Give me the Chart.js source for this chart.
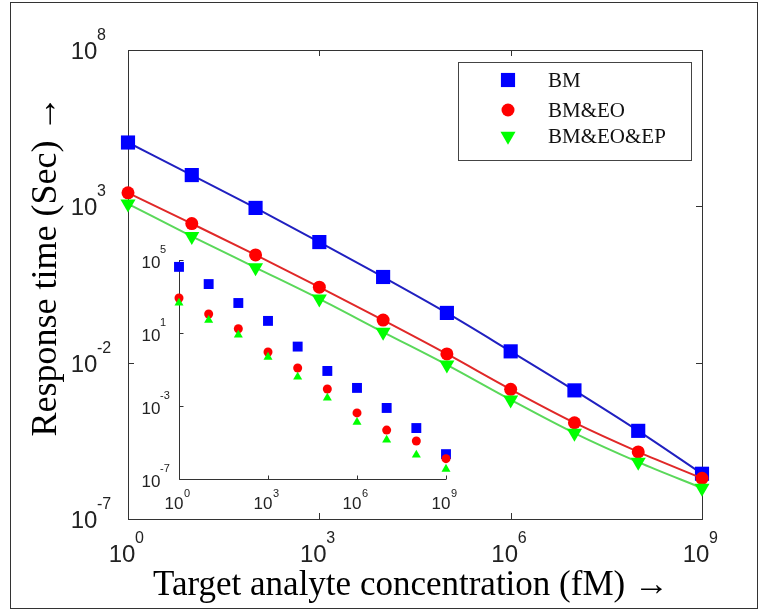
<!DOCTYPE html>
<html>
<head>
<meta charset="utf-8">
<script src="https://cdn.jsdelivr.net/npm/chart.js@4/dist/chart.umd.min.js"></script>
<style>
html,body{margin:0;padding:0;background:#fff;}
#wrap{position:relative;width:765px;height:613px;overflow:hidden;}
#main{position:absolute;left:0;top:0;}
#inset{position:absolute;left:130px;top:240px;}
</style>
</head>
<body>
<div id="wrap">
<canvas id="main" width="765" height="613"></canvas>
<canvas id="inset" width="340" height="270"></canvas>
</div>
<script>
// ---------- data ----------
const concentrations = [1e0, 1e1, 1e2, 1e3, 1e4, 1e5, 1e6, 1e7, 1e8, 1e9];
const seriesNames = ['BM', 'BM&EO', 'BM&EO&EP'];

// main plot (response time in seconds)
const bmTime     = [1.1e5, 1.0e4, 8.9e2, 7.2e1, 5.5e0, 3.9e-1, 2.3e-2, 1.3e-3, 6.6e-5, 2.8e-6];
const bmEoTime   = [2.7e3, 2.8e2, 2.8e1, 2.6e0, 2.3e-1, 1.9e-2, 1.4e-3, 1.2e-4, 1.4e-5, 2.0e-6];
const bmEoEpTime = [1.2e3, 1.1e2, 1.1e1, 1.1e0, 9.5e-2, 8.5e-3, 6.5e-4, 5.6e-5, 6.6e-6, 9.8e-7];

// inset plot
const insetBm     = [4.2e4, 4.8e3, 4.4e2, 4.6e1, 1.8e0, 8.3e-2, 9.8e-3, 7.8e-4, 6.2e-5, 2.3e-6];
const insetBmEo   = [8.3e2, 1.1e2, 1.7e1, 9.1e-1, 1.2e-1, 8.5e-3, 4.2e-4, 4.8e-5, 1.2e-5, 1.3e-6];
const insetBmEoEp = [4.4e2, 5.1e1, 7.8e0, 4.8e-1, 3.9e-2, 2.8e-3, 1.3e-4, 1.4e-5, 2.1e-6, 3.5e-7];

// tick values
const mainXTicks  = [1e0, 1e3, 1e6, 1e9];
const mainYTicks  = [1e-7, 1e-2, 1e3, 1e8];
const insetXTicks = [1e0, 1e3, 1e6, 1e9];
const insetYTicks = [1e-7, 1e-3, 1e1, 1e5];

const xTitle = 'Target analyte concentration (fM) \u2192';
const yTitle = 'Response time (Sec) \u2192';

// ---------- styles ----------
const markerColors = ['#0000ff', '#ff0000', '#00ff00'];
const lineColors   = ['#2020c0', '#e02828', '#5ad85a'];
const pointStyles  = ['rect', 'circle', 'triangle'];
const mainRadii    = [10, 6.5, 8.7];
const insetRadii   = [7, 4.5, 5.2];
const mainRot      = [0, 0, 180];
const insetRot     = [0, 0, 0];
const SANS = '"Liberation Sans", Arial, sans-serif';
const SERIF = '"Liberation Serif", "Times New Roman", serif';

function toPoints(vals) { return concentrations.map((x, i) => ({x: x, y: vals[i]})); }
function expOf(v) { return String(Math.round(Math.log10(v))); }

// draws "10" whose ink right edge is at inkRight, and the exponent just after it
function drawPow(ctx, v, inkRight, base10, baseExp, f10, fExp, gap) {
  ctx.textBaseline = 'alphabetic';
  ctx.textAlign = 'right';
  ctx.font = f10;
  const m = ctx.measureText('10');
  const ax = inkRight - m.actualBoundingBoxRight;
  ctx.fillText('10', ax, base10);
  ctx.textAlign = 'left';
  ctx.font = fExp;
  const e = expOf(v);
  const me = ctx.measureText(e);
  ctx.fillText(e, inkRight + gap + me.actualBoundingBoxLeft, baseExp);
}

function drawMarker(ctx, style, x, y, r, color, rot) {
  ctx.save();
  ctx.fillStyle = color;
  ctx.beginPath();
  if (style === 'rect') {
    const s = Math.SQRT1_2 * r;
    ctx.rect(x - s, y - s, 2 * s, 2 * s);
  } else if (style === 'circle') {
    ctx.arc(x, y, r, 0, Math.PI * 2);
  } else {
    const sgn = rot === 180 ? 1 : -1;
    ctx.moveTo(x, y + sgn * r);
    ctx.lineTo(x + r * Math.sin(Math.PI / 3), y - sgn * r / 2);
    ctx.lineTo(x - r * Math.sin(Math.PI / 3), y - sgn * r / 2);
    ctx.closePath();
  }
  ctx.fill();
  ctx.restore();
}

// ---------- main chart ----------
const mainSeries = [bmTime, bmEoTime, bmEoEpTime];
const mainDatasets = mainSeries.map((vals, i) => ({
  label: seriesNames[i],
  data: toPoints(vals),
  showLine: true,
  borderColor: lineColors[i],
  borderWidth: 2,
  backgroundColor: markerColors[i],
  pointBackgroundColor: markerColors[i],
  pointBorderColor: markerColors[i],
  pointBorderWidth: 0,
  pointStyle: pointStyles[i],
  pointRadius: mainRadii[i],
  pointRotation: mainRot[i],
  cubicInterpolationMode: 'monotone',
  clip: false,
  order: 3 - i
}));

const mainDeco = {
  id: 'mainDeco',
  beforeDatasetsDraw(chart) {
    const ctx = chart.ctx, a = chart.chartArea;
    const xs = chart.scales.x, ys = chart.scales.y;
    ctx.save();
    ctx.strokeStyle = '#333';
    ctx.lineWidth = 1;
    ctx.strokeRect(Math.round(a.left) + 0.5, Math.round(a.top) + 0.5,
                   Math.round(a.right - a.left), Math.round(a.bottom - a.top));
    ctx.beginPath();
    mainXTicks.forEach(v => {
      const px = Math.round(xs.getPixelForValue(v)) + 0.5;
      ctx.moveTo(px, a.bottom); ctx.lineTo(px, a.bottom - 6);
      ctx.moveTo(px, a.top); ctx.lineTo(px, a.top + 6);
    });
    mainYTicks.forEach(v => {
      const py = Math.round(ys.getPixelForValue(v)) + 0.5;
      ctx.moveTo(a.left, py); ctx.lineTo(a.left + 6, py);
      ctx.moveTo(a.right, py); ctx.lineTo(a.right - 6, py);
    });
    ctx.stroke();
    ctx.restore();
  },
  afterDraw(chart) {
    const ctx = chart.ctx, a = chart.chartArea;
    const xs = chart.scales.x, ys = chart.scales.y;
    ctx.save();
    // figure frame
    ctx.strokeStyle = '#333';
    ctx.lineWidth = 1;
    ctx.strokeRect(10.5, 2.5, 747, 606);
    // tick labels
    ctx.fillStyle = '#222';
    const f10 = '24px ' + SANS, fE = '16px ' + SANS;
    mainXTicks.forEach(v => {
      const px = xs.getPixelForValue(v);
      drawPow(ctx, v, px + 7, a.bottom + 43, a.bottom + 24, f10, fE, 0);
    });
    mainYTicks.forEach(v => {
      const py = ys.getPixelForValue(v);
      drawPow(ctx, v, 97, py + 9, py - 10, f10, fE, 0);
    });
    // axis titles
    ctx.fillStyle = '#000';
    ctx.textAlign = 'center';
    ctx.textBaseline = 'alphabetic';
    ctx.font = '35px ' + SERIF;
    ctx.fillText(xTitle, 411, 595);
    ctx.save();
    ctx.translate(56, 266);
    ctx.rotate(-Math.PI / 2);
    ctx.font = '36px ' + SERIF;
    ctx.fillText(yTitle, 0, 0);
    ctx.restore();
    // legend
    ctx.fillStyle = '#fff';
    ctx.fillRect(458.5, 62.5, 233, 98);
    ctx.strokeStyle = '#444';
    ctx.strokeRect(458.5, 62.5, 233, 98);
    const rows = [80, 110, 136];
    seriesNames.forEach((name, i) => {
      drawMarker(ctx, pointStyles[i], 508, rows[i], mainRadii[i], markerColors[i], mainRot[i]);
      ctx.fillStyle = '#111';
      ctx.font = '21px ' + SERIF;
      ctx.textAlign = 'left';
      ctx.textBaseline = 'middle';
      ctx.fillText(name, 548, rows[i] + 1);
    });
    ctx.restore();
  }
};

new Chart(document.getElementById('main'), {
  type: 'scatter',
  data: {datasets: mainDatasets},
  options: {
    responsive: false,
    animation: false,
    devicePixelRatio: 1,
    events: [],
    layout: {padding: {left: 0, right: 63, top: 50, bottom: 0}},
    plugins: {legend: {display: false}, tooltip: {enabled: false}},
    scales: {
      x: {
        type: 'logarithmic', min: 1e0, max: 1e9,
        grid: {display: false}, border: {display: false},
        ticks: {display: false},
        afterBuildTicks(s) { s.ticks = mainXTicks.map(v => ({value: v})); },
        afterFit(s) { s.height = 94; }
      },
      y: {
        type: 'logarithmic', min: 1e-7, max: 1e8,
        grid: {display: false}, border: {display: false},
        ticks: {display: false},
        afterBuildTicks(s) { s.ticks = mainYTicks.map(v => ({value: v})); },
        afterFit(s) { s.width = 128; }
      }
    }
  },
  plugins: [mainDeco]
});

// ---------- inset chart ----------
const insetSeries = [insetBm, insetBmEo, insetBmEoEp];
const insetDatasets = insetSeries.map((vals, i) => ({
  label: seriesNames[i],
  data: toPoints(vals),
  showLine: false,
  backgroundColor: markerColors[i],
  pointBackgroundColor: markerColors[i],
  pointBorderColor: markerColors[i],
  pointBorderWidth: 0,
  pointStyle: pointStyles[i],
  pointRadius: insetRadii[i],
  pointRotation: insetRot[i],
  clip: false,
  order: 3 - i
}));

const insetDeco = {
  id: 'insetDeco',
  beforeDatasetsDraw(chart) {
    const ctx = chart.ctx, a = chart.chartArea;
    const xs = chart.scales.x, ys = chart.scales.y;
    ctx.save();
    ctx.strokeStyle = '#333';
    ctx.lineWidth = 1;
    const L = Math.round(a.left) + 0.5, B = Math.round(a.bottom) + 0.5;
    ctx.beginPath();
    ctx.moveTo(L, a.top); ctx.lineTo(L, B); ctx.lineTo(a.right, B);
    insetXTicks.forEach(v => {
      const px = Math.round(xs.getPixelForValue(v)) + 0.5;
      ctx.moveTo(px, B); ctx.lineTo(px, B - 4);
    });
    insetYTicks.forEach(v => {
      const py = Math.round(ys.getPixelForValue(v)) + 0.5;
      ctx.moveTo(L, py); ctx.lineTo(L + 4, py);
    });
    ctx.stroke();
    ctx.restore();
  },
  afterDraw(chart) {
    const ctx = chart.ctx, a = chart.chartArea;
    const xs = chart.scales.x, ys = chart.scales.y;
    ctx.save();
    ctx.fillStyle = '#222';
    const f10 = '17px ' + SANS, fE = '11px ' + SANS;
    insetXTicks.forEach(v => {
      const px = xs.getPixelForValue(v);
      drawPow(ctx, v, px + 4, a.bottom + 30, a.bottom + 18, f10, fE, 1);
    });
    insetYTicks.forEach(v => {
      const py = ys.getPixelForValue(v);
      drawPow(ctx, v, a.left - 19, py + 8, py - 7, f10, fE, 0);
    });
    ctx.restore();
  }
};

new Chart(document.getElementById('inset'), {
  type: 'scatter',
  data: {datasets: insetDatasets},
  options: {
    responsive: false,
    animation: false,
    devicePixelRatio: 1,
    events: [],
    layout: {padding: {left: 0, right: 24, top: 20, bottom: 0}},
    plugins: {legend: {display: false}, tooltip: {enabled: false}},
    scales: {
      x: {
        type: 'logarithmic', min: 1e0, max: 1e9,
        grid: {display: false}, border: {display: false},
        ticks: {display: false},
        afterBuildTicks(s) { s.ticks = insetXTicks.map(v => ({value: v})); },
        afterFit(s) { s.height = 31; }
      },
      y: {
        type: 'logarithmic', min: 1e-7, max: 1e5,
        grid: {display: false}, border: {display: false},
        ticks: {display: false},
        afterBuildTicks(s) { s.ticks = insetYTicks.map(v => ({value: v})); },
        afterFit(s) { s.width = 49; }
      }
    }
  },
  plugins: [insetDeco]
});
</script>
</body>
</html>
